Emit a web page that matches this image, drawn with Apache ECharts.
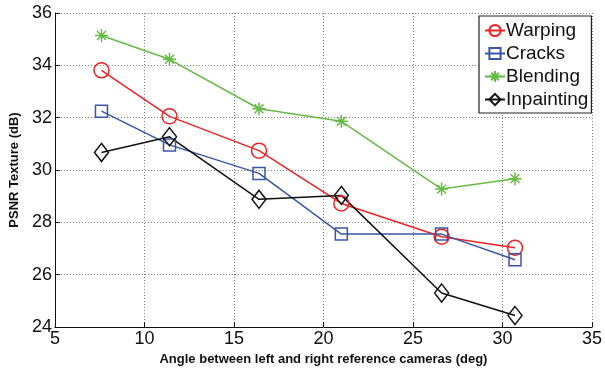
<!DOCTYPE html>
<html><head><meta charset="utf-8">
<script src="https://cdn.jsdelivr.net/npm/echarts@6/dist/echarts.min.js"></script>
<style>html,body{margin:0;padding:0;background:#fff}#c{width:605px;height:371px}</style>
</head><body><div id="c"></div>
<script>
const angles = [7.6, 11.4, 16.4, 21.0, 26.6, 30.7];
const warping = [33.81, 32.05, 30.74, 28.72, 27.45, 27.03];
const cracks = [32.25, 30.96, 29.87, 27.55, 27.55, 26.57];
const blending = [35.14, 34.23, 32.34, 31.86, 29.27, 29.67];
const inpainting = [30.67, 31.27, 28.88, 29.03, 25.3, 24.44];
const seriesNames = ['Warping', 'Cracks', 'Blending', 'Inpainting'];
const xTicks = [5, 10, 15, 20, 25, 30, 35];
const yTicks = [24, 26, 28, 30, 32, 34, 36];

const FONT = 'Liberation Sans';
const star = 'path://M0,5L10,5M5,0L5,10M1.6,1.6L8.4,8.4M8.4,1.6L1.6,8.4';
const cfg = [
  {data: warping, color: '#ee2224', symbol: 'circle', size: 15},
  {data: cracks, color: '#3a55a6', symbol: 'rect', size: 12},
  {data: blending, color: '#66bb44', symbol: star, size: 13},
  {data: inpainting, color: '#111111', symbol: 'diamond', size: [14, 18]}
];
const chart = echarts.init(document.getElementById('c'));
chart.setOption({
  animation: false,
  backgroundColor: '#fff',
  grid: {left: 53, right: 11, top: 13, bottom: 40},
  legend: {
    orient: 'vertical', left: 479, top: 16, width: 112,
    data: seriesNames,
    backgroundColor: '#fff', borderColor: '#222', borderWidth: 1.2,
    padding: [4, 3, 3, 5], itemGap: 2, itemWidth: 20, itemHeight: 14,
    textStyle: {fontFamily: FONT, fontSize: 19, lineHeight: 21, color: '#111', padding: [0,0,0,-4]}
  },
  xAxis: {
    type: 'value', min: xTicks[0], max: xTicks[xTicks.length-1], interval: 5,
    name: 'Angle between left and right reference cameras (deg)',
    nameLocation: 'middle', nameGap: 26,
    nameTextStyle: {fontFamily: FONT, fontSize: 13, fontWeight: 'bold', color: '#111'},
    axisLine: {lineStyle: {color: '#111', width: 1}},
    axisTick: {inside: true, length: 5, lineStyle: {color: '#111'}},
    axisLabel: {fontFamily: FONT, fontSize: 18, color: '#111', margin: 3},
    splitLine: {show: true, lineStyle: {color: '#777', type: [1, 2], width: 1}}
  },
  yAxis: {
    type: 'value', min: yTicks[0], max: yTicks[yTicks.length-1], interval: 2,
    name: 'PSNR Texture (dB)',
    nameLocation: 'middle', nameGap: 25,
    nameTextStyle: {fontFamily: FONT, fontSize: 13, fontWeight: 'bold', color: '#111'},
    axisLine: {show: true, lineStyle: {color: '#111', width: 1}},
    axisTick: {show: true, inside: true, length: 5, lineStyle: {color: '#111'}},
    axisLabel: {fontFamily: FONT, fontSize: 18, color: '#111', margin: 3},
    splitLine: {show: true, lineStyle: {color: '#777', type: [1, 2], width: 1}}
  },
  series: cfg.map((c, i) => ({
    name: seriesNames[i], type: 'line',
    data: angles.map((a, j) => [a, c.data[j]]),
    symbol: c.symbol, symbolSize: c.size, showAllSymbol: true,
    lineStyle: {color: c.color, width: 1.5},
    itemStyle: {color: 'rgba(0,0,0,0)', borderColor: c.color, borderWidth: 1.5}
  }))
});
</script></body></html>
